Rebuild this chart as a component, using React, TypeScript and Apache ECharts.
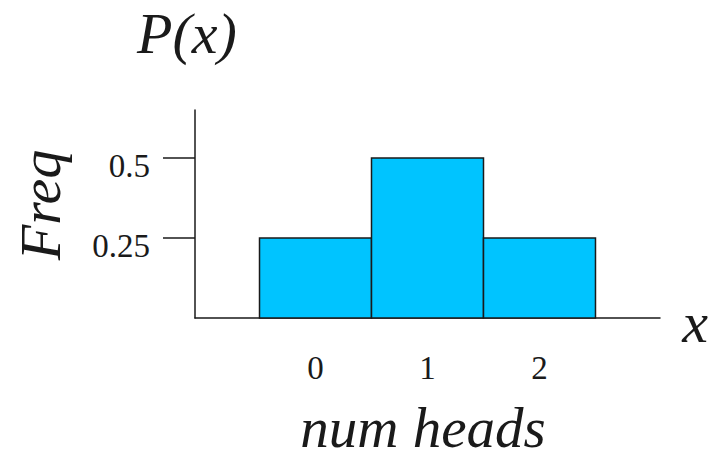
import React, { useEffect, useRef } from "react";
import * as echarts from "echarts";

// Outcomes of two coin tosses and their probabilities
const heads = [0, 1, 2];
const probs = [0.25, 0.5, 0.25];
const yTickValues = [0.25, 0.5];
const xTickValues = [0, 1, 2];
const binWidth = 1;

const SERIF = "Liberation Serif";
const INK = "#1a1a1a";
const BAR = "#00C4FF";

const italicText = (text: string, x: number, y: number, size = 58, rotation = 0) => ({
  type: "text",
  x,
  y,
  rotation,
  style: {
    text,
    fill: INK,
    fontFamily: SERIF,
    fontStyle: "italic",
    fontSize: size,
    lineHeight: 44,
    align: "center",
    verticalAlign: "middle",
  },
});

export default function App() {
  const ref = useRef<HTMLDivElement>(null);

  useEffect(() => {
    if (!ref.current) return;
    const chart = echarts.init(ref.current, null, { renderer: "svg" });

    const option = {
      animation: false,
      backgroundColor: "#ffffff",
      grid: { left: 195, right: 51, top: 110, bottom: 140 },
      xAxis: {
        type: "value",
        min: -1.076,
        max: 3.076,
        axisLine: { show: true, onZero: false, lineStyle: { color: INK, width: 1.5 } },
        axisTick: { show: false },
        splitLine: { show: false },
        axisLabel: {
          customValues: xTickValues,
          margin: 33,
          color: INK,
          fontFamily: SERIF,
          fontSize: 33,
        },
      },
      yAxis: {
        type: "value",
        min: 0,
        max: 0.65,
        axisLine: { show: true, onZero: false, lineStyle: { color: INK, width: 1.5 } },
        axisTick: {
          show: true,
          customValues: yTickValues,
          length: 32,
          lineStyle: { color: INK, width: 1.5 },
        },
        splitLine: { show: false },
        axisLabel: {
          customValues: yTickValues,
          margin: 45,
          color: INK,
          fontFamily: SERIF,
          fontSize: 33,
          verticalAlign: "top",
          lineHeight: 15,
        },
      },
      graphic: [
        italicText("P(x)", 187, 33),
        italicText("x", 695, 322),
        italicText("num heads", 423, 427, 57),
        italicText("Freq", 40, 205, 58, Math.PI / 2),
      ],
      series: [
        {
          type: "custom",
          data: heads.map((h, i) => [h, probs[i]]),
          renderItem: (_params: any, api: any) => {
            const x = api.value(0);
            const p = api.value(1);
            const topLeft = api.coord([x - binWidth / 2, p]);
            const bottomRight = api.coord([x + binWidth / 2, 0]);
            return {
              type: "rect",
              shape: {
                x: topLeft[0],
                y: topLeft[1],
                width: bottomRight[0] - topLeft[0],
                height: bottomRight[1] - topLeft[1],
              },
              style: { fill: BAR, stroke: INK, lineWidth: 1.5 },
            };
          },
        },
      ],
    };

    chart.setOption(option as any);
    return () => chart.dispose();
  }, []);

  return (
    <div
      ref={ref}
      style={{ position: "fixed", left: 0, top: 0, width: 711, height: 458 }}
    />
  );
}
